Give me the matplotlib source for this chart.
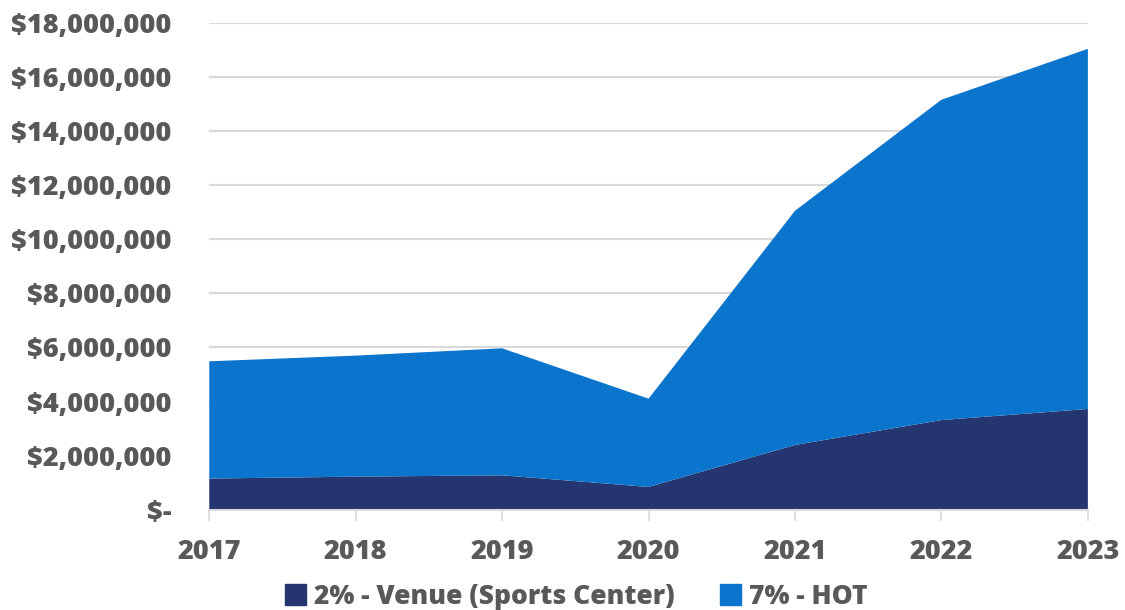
import numpy as np
import matplotlib.pyplot as plt
from matplotlib.patches import Patch
from matplotlib.ticker import FuncFormatter

years = [2017, 2018, 2019, 2020, 2021, 2022, 2023]
venue = [1.16e6, 1.23e6, 1.28e6, 0.85e6, 2.40e6, 3.32e6, 3.73e6]
total = [5.49e6, 5.70e6, 5.97e6, 4.11e6, 11.05e6, 15.15e6, 17.03e6]
hot = [t - v for t, v in zip(total, venue)]

c_venue = '#243570'
c_hot = '#0b74cd'
grey = '#595959'

plt.rcParams['font.family'] = ['Open Sans', 'DejaVu Sans']
plt.rcParams['font.weight'] = 'heavy'

fig = plt.figure(figsize=(11.25, 6.10), dpi=100)
ax = fig.add_axes([0.186, 0.164, 0.781, 0.799])

ax.stackplot(years, venue, hot, colors=[c_venue, c_hot], linewidth=0)

ax.set_xlim(2017, 2023)
ax.set_ylim(0, 18e6)
ax.set_yticks(np.arange(0, 18e6 + 1, 2e6))
ax.set_xticks(years)


def money(v, pos):
    if v == 0:
        return '$-'
    return '${:,.0f}'.format(v)


ax.yaxis.set_major_formatter(FuncFormatter(money))
ax.grid(axis='y', color='#d9d9d9', linewidth=1.5)
ax.set_axisbelow(True)
for s in ['top', 'right', 'left']:
    ax.spines[s].set_visible(False)
ax.spines['bottom'].set_color('#d9d9d9')
ax.spines['bottom'].set_linewidth(1.5)
ax.spines['bottom'].set_zorder(3)

ax.tick_params(axis='y', length=0, pad=27, labelsize=19.5, labelcolor=grey)
ax.tick_params(axis='x', length=8, width=1.2, color='#d9d9d9', pad=13,
               labelsize=19.5, labelcolor=grey)

handles = [Patch(color=c_venue, label='2% - Venue (Sports Center)'),
           Patch(color=c_hot, label='7% - HOT')]
fig.legend(handles=handles, loc='center', bbox_to_anchor=(0.512, 0.022), ncol=2,
           frameon=False, fontsize=19, labelcolor=grey, handlelength=0.8,
           handleheight=0.8, handletextpad=0.3, columnspacing=1.7)

fig.savefig('out.png', dpi=100, facecolor='white')
